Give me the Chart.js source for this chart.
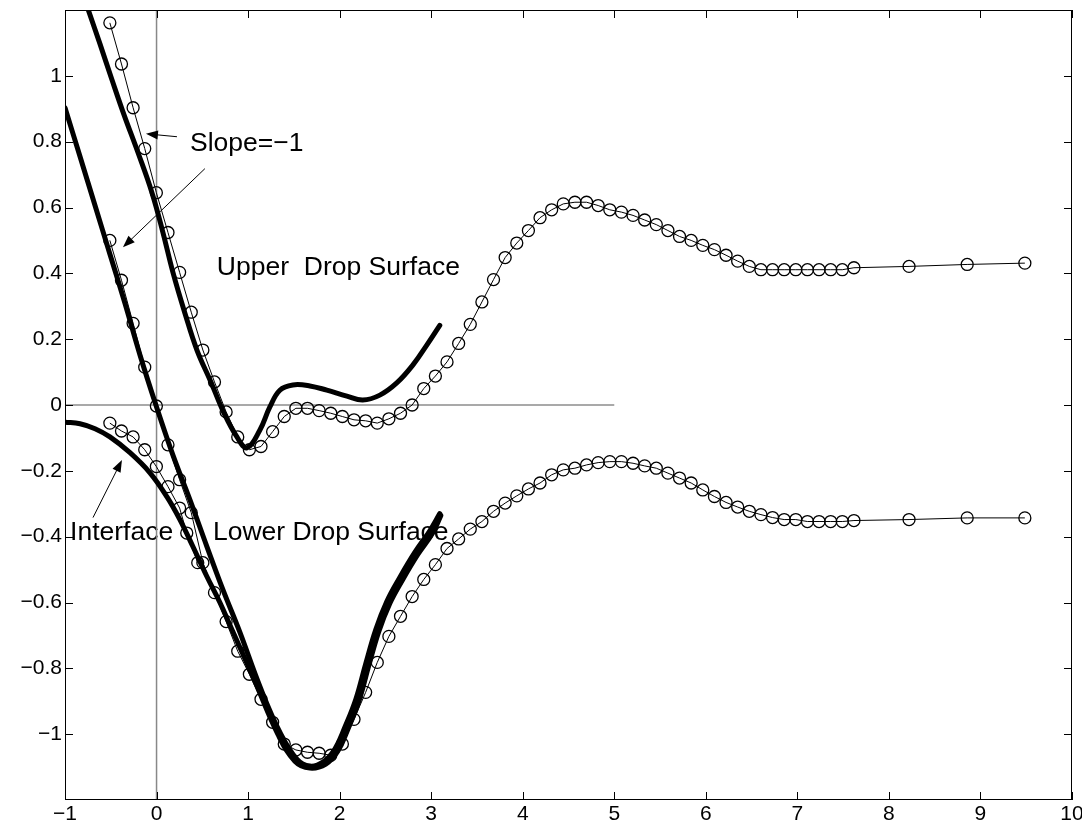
<!DOCTYPE html>
<html>
<head>
<meta charset="utf-8">
<script src="https://cdn.jsdelivr.net/npm/chart.js@4.4.1/dist/chart.umd.min.js"></script>
<style>
  html, body { margin: 0; padding: 0; background: #fff; }
  canvas { display: block; }
</style>
</head>
<body>
<canvas id="drop-chart" width="1082" height="832"></canvas>
<script>
// x positions of the computed nodes (circles), shared by upper and lower surface
const nodeX = [-0.51, -0.383, -0.256, -0.129, -0.002, 0.125, 0.252, 0.379, 0.506, 0.633,
  0.76, 0.887, 1.014, 1.141, 1.268, 1.395, 1.522, 1.649, 1.776, 1.903,
  2.03, 2.157, 2.284, 2.411, 2.538, 2.665, 2.792, 2.919, 3.046, 3.173,
  3.3, 3.427, 3.554, 3.681, 3.808, 3.935, 4.062, 4.189, 4.316, 4.443,
  4.57, 4.697, 4.824, 4.951, 5.078, 5.205, 5.332, 5.459, 5.586, 5.713,
  5.84, 5.967, 6.094, 6.221, 6.348, 6.475, 6.602, 6.729, 6.856, 6.983,
  7.11, 7.237, 7.364, 7.491, 7.618, 8.22, 8.855, 9.485];

const upperY = [1.161, 1.036, 0.903, 0.779, 0.645, 0.524, 0.403, 0.282, 0.167, 0.070,
  -0.021, -0.097, -0.136, -0.126, -0.081, -0.035, -0.010, -0.010, -0.017, -0.025,
  -0.035, -0.045, -0.048, -0.055, -0.042, -0.025, 0.000, 0.050, 0.088, 0.131,
  0.187, 0.245, 0.313, 0.381, 0.448, 0.492, 0.530, 0.569, 0.593, 0.611,
  0.616, 0.616, 0.606, 0.593, 0.586, 0.576, 0.562, 0.548, 0.530, 0.512,
  0.500, 0.485, 0.472, 0.455, 0.437, 0.421, 0.411, 0.411, 0.411, 0.411,
  0.411, 0.411, 0.411, 0.411, 0.417, 0.421, 0.427, 0.431];

const lowerY = [0.500, 0.379, 0.248, 0.115, -0.003, -0.121, -0.227, -0.327, -0.479, -0.570,
  -0.658, -0.748, -0.818, -0.894, -0.964, -1.030, -1.048, -1.055, -1.058, -1.064,
  -1.030, -0.955, -0.873, -0.782, -0.703, -0.642, -0.582, -0.530, -0.485, -0.436,
  -0.407, -0.377, -0.354, -0.323, -0.298, -0.276, -0.255, -0.237, -0.212, -0.197,
  -0.192, -0.182, -0.175, -0.172, -0.172, -0.177, -0.185, -0.192, -0.207, -0.222,
  -0.237, -0.258, -0.278, -0.296, -0.310, -0.323, -0.333, -0.342, -0.348, -0.348,
  -0.354, -0.354, -0.354, -0.354, -0.351, -0.348, -0.343, -0.343];

const interfaceX = [-0.51, -0.383, -0.256, -0.129, -0.002, 0.125, 0.252, 0.33, 0.45];
const interfaceY = [-0.055, -0.079, -0.097, -0.136, -0.187, -0.248, -0.313, -0.389, -0.479];

// thick curves
const upperThickX = [-0.749, -0.618, -0.487, -0.356, -0.203, -0.05, 0.07, 0.179, 0.31, 0.441,
  0.594, 0.736, 0.878, 0.987, 1.129, 1.238, 1.347, 1.489, 1.675, 1.86,
  2.079, 2.253, 2.439, 2.624, 2.799, 2.952, 3.094];
const upperThickY = [1.203, 1.097, 0.988, 0.882, 0.767, 0.645, 0.524, 0.403, 0.279, 0.167,
  0.07, -0.024, -0.097, -0.13, -0.076, -0.006, 0.045, 0.061, 0.058, 0.045,
  0.027, 0.015, 0.03, 0.067, 0.121, 0.182, 0.242];

const lowerThickX = [-1.0, -0.836, -0.672, -0.509, -0.345, -0.181, -0.007, 0.179, 0.365, 0.55,
  0.725, 0.911, 1.129, 1.347, 1.533, 1.675, 1.817, 1.948, 2.057, 2.177,
  2.286, 2.395, 2.515, 2.657, 2.821, 2.985, 3.094];
const lowerThickY = [0.903, 0.755, 0.606, 0.458, 0.309, 0.152, 0.0, -0.152, -0.288, -0.43,
  -0.561, -0.691, -0.855, -0.994, -1.076, -1.097, -1.085, -1.045, -0.979, -0.894,
  -0.785, -0.682, -0.597, -0.524, -0.448, -0.382, -0.330];

const interfaceThickX = [-1.0, -0.836, -0.672, -0.509, -0.29, -0.072, 0.114, 0.255, 0.397, 0.55,
  0.692, 0.823, 1.074, 1.325, 1.511, 1.675, 1.849, 1.98, 2.09, 2.21,
  2.319, 2.428, 2.548, 2.69, 2.854, 3.018, 3.105];
const interfaceThickY = [-0.052, -0.057, -0.072, -0.097, -0.145, -0.206, -0.279, -0.348, -0.430, -0.521,
  -0.600, -0.682, -0.839, -1.000, -1.082, -1.103, -1.091, -1.052, -0.985, -0.900,
  -0.791, -0.688, -0.603, -0.530, -0.454, -0.388, -0.336];

// reference lines x = 0 and y = 0
const zeroLineX = [-1, 5];
const zeroLineY = [-1.2, 1.2];

const xTicks = [-1, 0, 1, 2, 3, 4, 5, 6, 7, 8, 9, 10];
const yTicks = [-1, -0.8, -0.6, -0.4, -0.2, 0, 0.2, 0.4, 0.6, 0.8, 1];

const labels = [
  { text: 'Slope=\u22121', x: 0.365, y: 0.794 },
  { text: 'Upper  Drop Surface', x: 0.659, y: 0.418 },
  { text: 'Interface', x: -0.945, y: -0.388 },
  { text: 'Lower Drop Surface', x: 0.616, y: -0.388 }
];
const arrows = [
  { from: [0.223, 0.815], to: [-0.116, 0.824] },
  { from: [0.528, 0.718], to: [-0.367, 0.479] },
  { from: [-0.694, -0.342], to: [-0.378, -0.167] }
];

const FONT = '"Liberation Sans", Arial, Helvetica, sans-serif';

function pts(xs, ys) {
  return xs.map((x, i) => ({ x: x, y: ys[i] }));
}

function fmt(v) {
  return String(Math.round(v * 10) / 10).replace('-', '\u2212');
}

const thick = {
  borderColor: '#000',
  borderWidth: 5,
  pointRadius: 0,
  showLine: true,
  tension: 0.4,
  borderCapStyle: 'round',
  borderJoinStyle: 'round',
  order: 1
};
const circles = {
  borderColor: '#000',
  borderWidth: 1,
  pointRadius: 6,
  pointBorderWidth: 1.3,
  pointBorderColor: '#000',
  pointBackgroundColor: 'rgba(0,0,0,0)',
  showLine: true,
  tension: 0,
  order: 2
};

const overlay = {
  id: 'overlay',
  beforeDatasetsDraw(chart) {
    const { ctx, scales: { x, y } } = chart;
    ctx.save();
    ctx.fillStyle = '#000';
    ctx.font = '26.5px ' + FONT;
    ctx.textAlign = 'left';
    ctx.textBaseline = 'middle';
    labels.forEach(l => ctx.fillText(l.text, x.getPixelForValue(l.x), y.getPixelForValue(l.y)));
    ctx.restore();
  },
  afterDraw(chart) {
    const { ctx, chartArea: a, scales: { x, y } } = chart;
    ctx.save();
    ctx.strokeStyle = '#000';
    ctx.lineWidth = 1;
    ctx.strokeRect(a.left + 0.5, a.top + 0.5, a.right - a.left - 1, a.bottom - a.top - 1);
    ctx.beginPath();
    xTicks.forEach(v => {
      const px = Math.round(x.getPixelForValue(v)) + 0.5;
      ctx.moveTo(px, a.bottom); ctx.lineTo(px, a.bottom - 8);
      ctx.moveTo(px, a.top); ctx.lineTo(px, a.top + 8);
    });
    yTicks.forEach(v => {
      const py = Math.round(y.getPixelForValue(v)) + 0.5;
      ctx.moveTo(a.left, py); ctx.lineTo(a.left + 8, py);
      ctx.moveTo(a.right, py); ctx.lineTo(a.right - 8, py);
    });
    ctx.stroke();

    // arrows
    ctx.fillStyle = '#000';
    arrows.forEach(ar => {
      const x0 = x.getPixelForValue(ar.from[0]), y0 = y.getPixelForValue(ar.from[1]);
      const x1 = x.getPixelForValue(ar.to[0]), y1 = y.getPixelForValue(ar.to[1]);
      const ang = Math.atan2(y1 - y0, x1 - x0);
      const len = 12, half = 4.5;
      ctx.beginPath();
      ctx.moveTo(x0, y0);
      ctx.lineTo(x1 - Math.cos(ang) * len * 0.8, y1 - Math.sin(ang) * len * 0.8);
      ctx.stroke();
      ctx.beginPath();
      ctx.moveTo(x1, y1);
      ctx.lineTo(x1 - Math.cos(ang) * len - Math.sin(ang) * half, y1 - Math.sin(ang) * len + Math.cos(ang) * half);
      ctx.lineTo(x1 - Math.cos(ang) * len + Math.sin(ang) * half, y1 - Math.sin(ang) * len - Math.cos(ang) * half);
      ctx.closePath();
      ctx.fill();
    });
    ctx.restore();
  }
};

const dropChart = new Chart(document.getElementById('drop-chart'), {
  type: 'scatter',
  data: {
    datasets: [
      Object.assign({ label: 'upper thick', data: pts(upperThickX, upperThickY) }, thick),
      Object.assign({ label: 'lower thick', data: pts(lowerThickX, lowerThickY) }, thick),
      Object.assign({ label: 'interface thick', data: pts(interfaceThickX, interfaceThickY) }, thick),
      Object.assign({ label: 'upper surface', data: pts(nodeX, upperY) }, circles),
      Object.assign({ label: 'lower surface', data: pts(nodeX, lowerY) }, circles),
      Object.assign({ label: 'interface', data: pts(interfaceX, interfaceY) }, circles),
      {
        label: 'y=0', data: pts(zeroLineX, [0, 0]), showLine: true, pointRadius: 0,
        borderColor: '#555', borderWidth: 1.2, order: 3
      },
      {
        label: 'x=0', data: pts([0, 0], zeroLineY), showLine: true, pointRadius: 0,
        borderColor: '#888', borderWidth: 1.5, order: 3
      }
    ]
  },
  options: {
    responsive: false,
    animation: false,
    events: [],
    layout: { padding: { top: 10, right: 10, left: 0, bottom: 0 } },
    scales: {
      x: {
        type: 'linear',
        min: -1,
        max: 10,
        afterBuildTicks: scale => { scale.ticks = xTicks.map(v => ({ value: v })); },
        afterFit: scale => {
          scale.height = 32;
          scale.paddingLeft = 0;
          scale.paddingRight = 0;
        },
        grid: { display: false, drawTicks: false },
        border: { display: false },
        ticks: {
          color: '#000',
          padding: 2,
          maxRotation: 0,
          font: { family: FONT, size: 21 },
          callback: v => fmt(v)
        }
      },
      y: {
        type: 'linear',
        min: -1.2,
        max: 1.2,
        afterBuildTicks: scale => { scale.ticks = yTicks.map(v => ({ value: v })); },
        afterFit: scale => {
          scale.width = 65;
          scale.paddingTop = 0;
          scale.paddingBottom = 0;
        },
        grid: { display: false, drawTicks: false },
        border: { display: false },
        ticks: {
          color: '#000',
          padding: 3,
          font: { family: FONT, size: 21 },
          callback: v => fmt(v)
        }
      }
    },
    plugins: {
      legend: { display: false },
      tooltip: { enabled: false }
    }
  },
  plugins: [overlay]
});
</script>
</body>
</html>
